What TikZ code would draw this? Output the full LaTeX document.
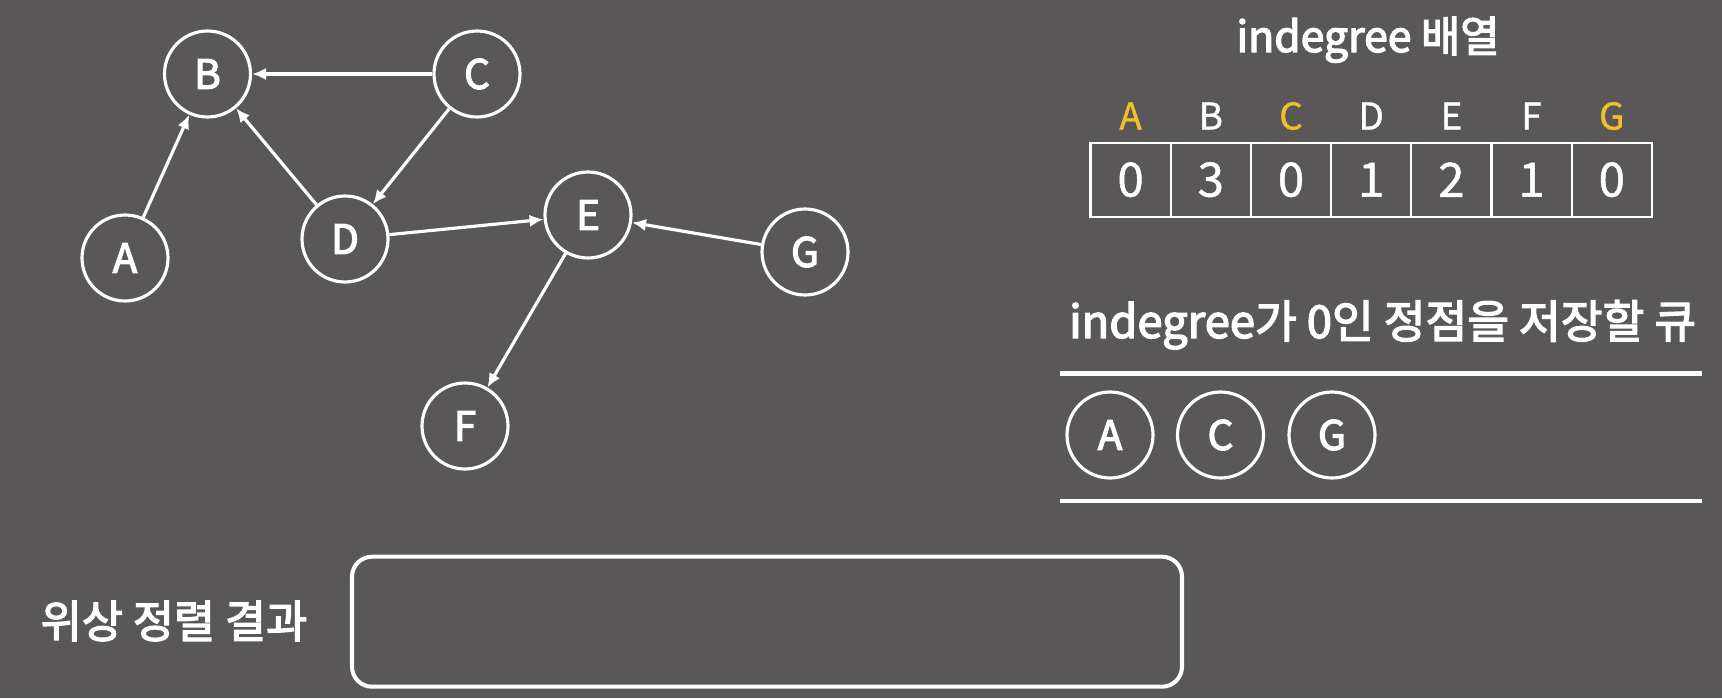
\documentclass[tikz,border=0pt]{standalone}
\usepackage{fontspec}
\setmainfont{Noto Sans CJK KR}[FakeBold=3]
\newfontfamily\fuentefina{Noto Sans CJK KR}[FakeBold=1]
\usepackage{xcolor}
\usepackage{tikz}
\usetikzlibrary{positioning, arrows.meta}
\definecolor{fondogris}{HTML}{595758}
\definecolor{gradoamarillo}{HTML}{F2BF2C}

\begin{document}
\begin{tikzpicture}[
    every node/.style={text=white, font=\fontsize{23}{27}\selectfont},
    vertice/.style={circle, draw=white, line width=1.8pt, minimum size=1.72cm, inner sep=0pt},
    arista/.style={-{Latex[length=8pt, width=7pt]}, draw=white, line width=1.8pt},
    celda/.style={draw=white, line width=1.2pt, minimum width=1.604cm, minimum height=1.48cm,
        inner sep=0pt, font=\fuentefina\fontsize{27}{32}\selectfont}
]
\fill[fondogris] (0,0) rectangle (34.44,13.96);
\useasboundingbox (0,0) rectangle (34.44,13.96);

% grafo
\node[vertice] (B) at (4.15,12.48) {B};
\node[vertice] (C) at (9.54,12.48) {C};
\node[vertice] (A) at (2.50,8.80) {A};
\node[vertice] (D) at (6.90,9.18) {D};
\node[vertice] (E) at (11.76,9.66) {E};
\node[vertice] (G) at (16.10,8.92) {G};
\node[vertice] (F) at (9.30,5.44) {F};

\draw[arista] (C) -- (B);
\draw[arista] (C) -- (D);
\draw[arista] (D) -- (B);
\draw[arista] (A) -- (B);
\draw[arista] (D) -- (E);
\draw[arista] (G) -- (E);
\draw[arista] (E) -- (F);

% indegree array
\node[anchor=base, font=\fontsize{24.3}{29}\selectfont] (titulo) at (27.36,12.92) {indegree 배열};
\foreach \letra/\grado/\col [count=\i from 0] in
    {A/0/gradoamarillo, B/3/white, C/0/gradoamarillo, D/1/white,
     E/2/white, F/1/white, G/0/gradoamarillo} {
    \node[celda] (celda\letra) at ({22.612+1.604*\i},10.366) {\grado};
    \node[text=\col, font=\fuentefina\fontsize{21}{25}\selectfont] (cab\letra)
        at ({22.612+1.604*\i},11.64) {\letra};
}

% cola
\node[anchor=base west, font=\fontsize{25.8}{31}\selectfont] (titulocola)
    at (21.26,7.20) {indegree가 0인 정점을 저장할 큐};
\coordinate (colaA1) at (21.19,6.494);
\coordinate (colaA2) at (34.03,6.494);
\coordinate (colaB1) at (21.19,3.94);
\coordinate (colaB2) at (34.03,3.94);
\draw[white, line width=2.6pt] (colaA1) -- (colaA2);
\draw[white, line width=2.6pt] (colaB1) -- (colaB2);
\node[vertice] (qA) at (22.20,5.26) {A};
\node[vertice] (qC) at (24.41,5.26) {C};
\node[vertice] (qG) at (26.64,5.26) {G};

% resultado
\node[font=\fontsize{25.4}{30}\selectfont] (etiqueta) at (3.48,1.54) {위상 정렬 결과};
\draw[white, line width=2.3pt, rounded corners=0.4cm]
    (7.04,0.226) rectangle (23.64,2.826);
\end{tikzpicture}
\end{document}
